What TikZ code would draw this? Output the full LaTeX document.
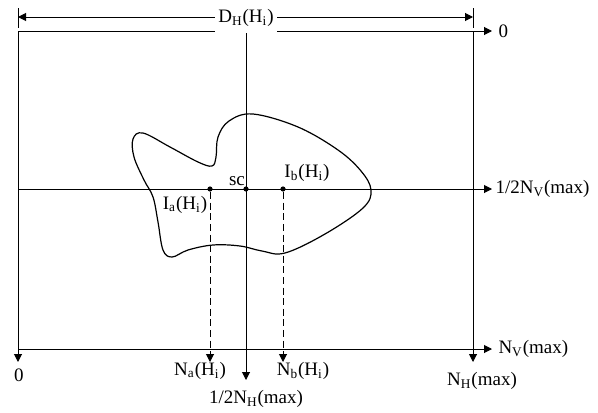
\documentclass[tikz,border=0pt]{standalone}
\usepackage{fontspec}
\setmainfont{Liberation Serif}
\usetikzlibrary{arrows.meta,positioning}

\tikzset{
  axis/.style={-{Triangle[length=4pt,width=4pt]}},
  dim/.style={{Triangle[length=4pt,width=4pt]}-{Triangle[length=4pt,width=4pt]}},
  proj/.style={-{Triangle[length=4pt,width=4pt]}, dash pattern=on 3.5pt off 1.8pt},
  dot/.style={circle, fill, inner sep=0pt, minimum size=2.6pt},
  lbl/.style={inner sep=1pt}
}

\begin{document}
\begin{tikzpicture}[x=0.5pt, y=-0.5pt, line width=0.5pt,
    font=\fontsize{9.5}{11}\selectfont]
    \useasboundingbox (0,0) rectangle (598,412);

    % frame corners and axis ends
    \coordinate (tl) at (18,31);
    \coordinate (tr) at (473,31);
    \coordinate (ml) at (18,189);
    \coordinate (bl) at (18,349);
    \coordinate (br) at (473,349);
    \coordinate (tc) at (246,31);
    \coordinate (top0) at (492,31);
    \coordinate (midv) at (492,189);
    \coordinate (nvmax) at (492,349);
    \coordinate (left0) at (18,362);
    \coordinate (nhmax) at (473,362);
    \coordinate (nhhalf) at (246,380);
    \coordinate (na) at (210,362);
    \coordinate (nb) at (283,362);
    \coordinate (dl) at (18,17);
    \coordinate (dr) at (473,17);

    % object outline
    \draw[line width=0.6pt] plot[smooth cycle, tension=0.6] coordinates {
        (253,114) (298,127) (338,150) (361,171) (371,190) (363,208)
        (325,234) (285,253) (262,251) (240,246) (213,245) (188,250)
        (172,257) (163,250) (158,222) (153,197) (144,180) (134,157)
        (133,139) (143,133) (170,147) (198,162) (212,166) (216,157)
        (218,137) (229,121)};

    % frame and axes
    \draw (tl) -- (bl);
    \draw (tr) -- (br);
    \draw[axis] (tl) -- (top0);
    \draw[axis] (ml) -- (midv);
    \draw[axis] (bl) -- (nvmax);
    \draw[axis] (bl) -- (left0);
    \draw[axis] (br) -- (nhmax);
    \draw[axis] (tc) -- (nhhalf);

    % extents
    \draw ([yshift=4.5pt]dl) -- ([yshift=-5.5pt]dl);
    \draw ([yshift=4.5pt]dr) -- ([yshift=-5.5pt]dr);
    \draw[dim] (dl) -- (dr);

    % points on the centre line
    \node[dot] (sc) at (246,189) {};
    \node[dot] (ia) at (210,189) {};
    \node[dot] (ib) at (283,189) {};
    \draw[proj] (ia) -- (na);
    \draw[proj] (ib) -- (nb);

    % labels
    \node[fill=white, inner xsep=1.5pt] (dh) at (246,18) {D\textsubscript{H}(H\textsubscript{i})};
    \node[lbl, right=2pt of top0] (lzero) {0};
    \node[lbl, right=0.5pt of midv] (lmidv) {1/2N\textsubscript{V}(max)};
    \node[lbl, right=2pt of nvmax] (lnvmax) {N\textsubscript{V}(max)};
    \node[lbl] (lleft0) at (19,375) {0};
    \node[lbl] (lnhmax) at (482,381) {N\textsubscript{H}(max)};
    \node[lbl] (lnhhalf) at (256,399) {1/2N\textsubscript{H}(max)};
    \node[lbl] (lna) at (200,371) {N\textsubscript{a}(H\textsubscript{i})};
    \node[lbl] (lnb) at (303,371) {N\textsubscript{b}(H\textsubscript{i})};
    \node[lbl] (lsc) at (237,181) {sc};
    \node[lbl] (lib) at (307,173) {I\textsubscript{b}(H\textsubscript{i})};
    \node[lbl] (lia) at (185,205) {I\textsubscript{a}(H\textsubscript{i})};
\end{tikzpicture}
\end{document}
